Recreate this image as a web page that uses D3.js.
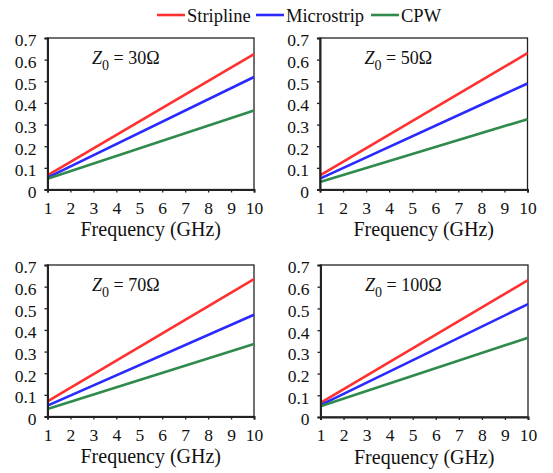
<!DOCTYPE html>
<html><head><meta charset="utf-8">
<script src="https://cdn.jsdelivr.net/npm/d3@7"></script>
<style>body{margin:0;background:#fff}svg{display:block}svg text{font-family:'Liberation Serif','Times New Roman',serif;fill:#111}</style>
</head><body>
<svg id="c" width="553" height="473"></svg>
<script>
const freq = [1, 10];
const xTicks = [1,2,3,4,5,6,7,8,9,10];
const yTicks = [0,0.1,0.2,0.3,0.4,0.5,0.6,0.7];
const seriesNames = ["Stripline","Microstrip","CPW"];
const seriesColors = ["#ff3030","#2a2aff","#2f8a4c"];
const panelLabels = ["30Ω","50Ω","70Ω","100Ω"];
const stripline = [[0.065,0.625],[0.065,0.63],[0.07,0.635],[0.065,0.63]];
const microstrip = [[0.055,0.52],[0.05,0.49],[0.05,0.47],[0.055,0.52]];
const cpw = [[0.05,0.365],[0.035,0.325],[0.035,0.335],[0.05,0.365]];
const allSeries = [stripline, microstrip, cpw];

const svg = d3.select("#c");
const panels = [
  {x0:47.5, x1:254, y0:38, y1:189.5},
  {x0:320, x1:527.5, y0:38, y1:189.5},
  {x0:47.5, x1:254, y0:265, y1:416.5},
  {x0:320.5, x1:528, y0:265, y1:417}
];

panels.forEach((p, i) => {
  const x = d3.scaleLinear().domain([1,10]).range([p.x0, p.x1]);
  const y = d3.scaleLinear().domain([0,0.7]).range([p.y1, p.y0]);
  const g = svg.append("g");
  g.append("rect").attr("x", p.x0).attr("y", p.y0).attr("width", p.x1-p.x0).attr("height", p.y1-p.y0)
    .attr("fill","none").attr("stroke","#222").attr("stroke-width",1.3);
  const line = d3.line().x((d,j)=>x(freq[j])).y(d=>y(d));
  allSeries.forEach((s, k) => {
    g.append("path").datum(s[i]).attr("d", line).attr("fill","none")
      .attr("stroke", seriesColors[k]).attr("stroke-width", 2.6);
  });
  const xa = g.append("g").attr("transform",`translate(0,${p.y1})`)
    .call(d3.axisBottom(x).tickValues(xTicks).tickSize(3).tickPadding(9.5).tickFormat(d3.format("d")));
  const ya = g.append("g").attr("transform",`translate(${p.x0},0)`)
    .call(d3.axisLeft(y).tickValues(yTicks).tickSize(3).tickPadding(8).tickFormat(d=> d===0?"0":d3.format(".1f")(d)));
  [xa, ya].forEach(a => {
    a.select(".domain").attr("stroke","#222").attr("stroke-width",2);
    a.selectAll(".tick line").attr("stroke","#222").attr("stroke-width",1.3);
    a.selectAll("text").attr("font-size", 17.5);
  });
  xa.selectAll("text").attr("dy","0.66em");
  ya.selectAll("text").attr("dy","0.45em");
  g.append("text").attr("x",(p.x0+p.x1)/2).attr("y", p.y1+46.5).attr("text-anchor","middle")
    .attr("font-size", 20).text("Frequency (GHz)");
  const t = g.append("text").attr("x", p.x0+44.5).attr("y", p.y0+25.5).attr("font-size", 18);
  t.append("tspan").attr("font-style","italic").text("Z");
  t.append("tspan").attr("font-size", 14).attr("dy", 6).text("0");
  t.append("tspan").attr("dy", -6).text(" = " + panelLabels[i]);
});

const legX = [157, 256, 371];
const leg = svg.append("g");
seriesNames.forEach((n, k) => {
  leg.append("line").attr("x1", legX[k]).attr("x2", legX[k]+28).attr("y1", 15).attr("y2", 15)
    .attr("stroke", seriesColors[k]).attr("stroke-width", 2.6);
  leg.append("text").attr("x", legX[k]+30).attr("y", 22).attr("font-size", 18.5).text(n);
});
</script>
</body></html>
